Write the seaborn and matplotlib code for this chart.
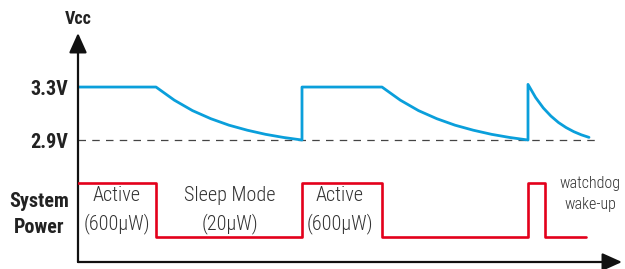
import matplotlib
matplotlib.use("Agg")
import matplotlib.pyplot as plt
import seaborn as sns
import pandas as pd
from matplotlib import font_manager as fm

sns.set_style("white")
names = {f.name for f in fm.fontManager.ttflist}
cond = "DejaVu Sans"
for cand in ["Roboto Condensed", "Archivo Narrow", "PT Sans Narrow", "Asap Condensed"]:
    if cand in names:
        cond = cand
        break
plt.rcParams['font.family'] = [cond, 'DejaVu Sans']

# ---- data (time in arbitrary units, voltage in V) ----
vcc_time = [0, 7.8, 9.63, 11.45, 13.28, 15.1, 16.93, 18.75, 20.58, 22.4,
            22.4, 30.4, 32.23, 34.05, 35.88, 37.7, 39.53, 41.35, 43.18, 45.0,
            45.0, 45.76, 46.53, 47.29, 48.05, 48.81, 49.58, 50.34, 51.1]
vcc_volts = [3.3, 3.3, 3.201, 3.122, 3.061, 3.012, 2.974, 2.943, 2.919, 2.9,
             3.3, 3.3, 3.201, 3.122, 3.061, 3.012, 2.974, 2.943, 2.919, 2.9,
             3.32, 3.221, 3.142, 3.081, 3.032, 2.994, 2.963, 2.939, 2.92]
power_time = [0, 7.8, 22.4, 30.4, 45.0, 46.7, 50.8]
power_state = [1, 0, 1, 0, 1, 0, 0]
threshold_time = [0, 51.7]
threshold_volts = [2.9, 2.9]
volt_ticks = [3.3, 2.9]
volt_labels = ["3.3V", "2.9V"]
phase_labels = ["Active\n(600µW)", "Sleep Mode\n(20µW)", "Active\n(600µW)"]
phase_centers = [3.9, 15.2, 26.2]

blue = "#0A9FDB"
red = "#E3001B"

fig = plt.figure(figsize=(6.25, 2.69), dpi=100)
ax = fig.add_axes([78/625, 7/269, 544/625, 229/269])
ax2 = ax.twinx()

vcc = pd.DataFrame({"t": vcc_time, "v": vcc_volts})
pw = pd.DataFrame({"t": power_time, "p": power_state})
th = pd.DataFrame({"t": threshold_time, "v": threshold_volts})

sns.lineplot(data=th, x="t", y="v", ax=ax, color="#444444", lw=0.9,
             linestyle=(0, (6, 5)), estimator=None, sort=False)
sns.lineplot(data=vcc, x="t", y="v", ax=ax, color=blue, lw=2.0,
             estimator=None, sort=False)
sns.lineplot(data=pw, x="t", y="p", ax=ax2, color=red, lw=1.9,
             drawstyle="steps-post", estimator=None, sort=False)

ax.set_xlim(0, 54.4)
ax.set_ylim(1.979, 3.708)
ax2.set_ylim(-0.463, 3.778)

for a in (ax, ax2):
    for s in a.spines.values():
        s.set_visible(False)
    a.set_xlabel("")
    a.set_ylabel("")
    a.set_xticks([])
ax2.set_yticks([])
ax.set_yticks(volt_ticks)
ax.set_yticklabels(volt_labels, fontsize=14.5, fontweight="bold", color="#222222")
ax.tick_params(axis="y", length=0, pad=7)

# axes arrows
arrow = dict(arrowstyle="-|>,head_length=1.0,head_width=0.45", color="#111111",
             lw=1.6, shrinkA=0, shrinkB=0, mutation_scale=12)
ax.annotate("", xy=(0, 1.0), xytext=(0, 0), xycoords="axes fraction",
            textcoords="axes fraction", arrowprops=arrow)
ax.annotate("", xy=(1.0, 0), xytext=(0, 0), xycoords="axes fraction",
            textcoords="axes fraction", arrowprops=arrow)

ax.text(0, 1.022, "Vcc", transform=ax.transAxes, ha="center", va="bottom",
        fontsize=13, fontweight="bold", color="#222222")
ax2.text(-0.072, 0.42, "System\nPower", transform=ax2.get_yaxis_transform(),
         ha="center", va="center", fontsize=14.5, fontweight="bold",
         color="#222222", linespacing=1.45)

for lbl, c in zip(phase_labels, phase_centers):
    ax2.text(c, 0.5, lbl, ha="center", va="center", fontsize=14.5,
             fontweight="light", color="#333333", linespacing=1.45)
ax2.text(51.2, 0.8, "watchdog\nwake-up", ha="center", va="center",
         fontsize=11.5, fontweight="light", color="#333333", linespacing=1.5)

fig.savefig("out.png", dpi=100)
